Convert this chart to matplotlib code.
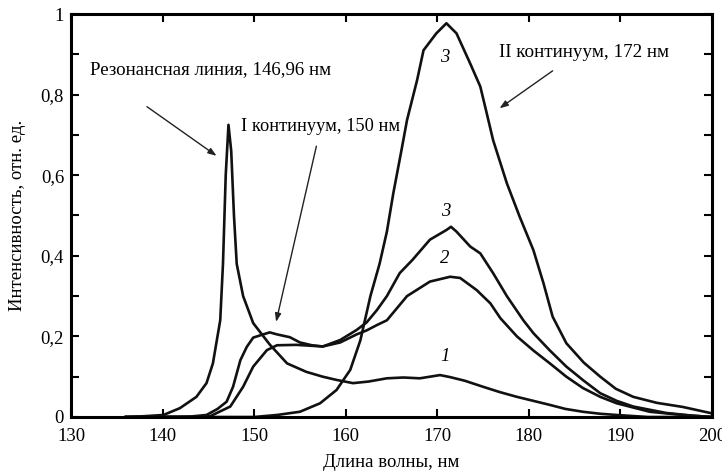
import matplotlib.pyplot as plt
from matplotlib.ticker import MultipleLocator, FuncFormatter

plt.rcParams['font.family'] = ['Liberation Serif', 'DejaVu Serif']

# Кривая 1: резонансная линия 146,96 нм
x1 = [136, 138, 140.1, 141.9, 143.7, 144.8, 145.5, 146.0, 146.3, 146.6, 146.9, 147.2,
      147.5, 147.8, 148.1, 148.8, 149.9, 151.7, 153.6, 155.7, 157.5, 159.0, 160.8,
      162.5, 164.5, 166.3, 168.1, 170.3, 171.4, 173.0, 175.0, 176.8, 178.7, 180.5,
      182.3, 184.0, 185.9, 187.8, 189.6, 193.0, 200]
y1 = [0, 0.002, 0.005, 0.022, 0.05, 0.084, 0.133, 0.2, 0.24, 0.38, 0.6, 0.725,
      0.66, 0.5, 0.38, 0.30, 0.233, 0.18, 0.133, 0.112, 0.1, 0.092, 0.084,
      0.088, 0.096, 0.098, 0.096, 0.104, 0.099, 0.09, 0.075, 0.062, 0.05, 0.04,
      0.03, 0.02, 0.013, 0.008, 0.005, 0.0, 0]

# Кривая 3 (средняя, максимум ~0,47)
x3m = [136, 143, 144.8, 146.0, 147.0, 147.7, 148.5, 149.2, 149.9, 151.0, 151.7, 152.5,
       153.9, 155.0, 156.3, 157.5, 159.4, 161.2, 162.3, 163.4, 164.5, 165.9, 167.3,
       169.2, 171.0, 171.5, 172.1, 173.6, 174.7, 176.1, 177.6, 179.4, 180.5, 182.3,
       184.1, 186.0, 187.8, 189.6, 191.4, 195.0, 198.0, 200]
y3m = [0, 0.001, 0.005, 0.02, 0.038, 0.075, 0.141, 0.174, 0.197, 0.205, 0.21, 0.205,
       0.198, 0.185, 0.178, 0.175, 0.191, 0.216, 0.235, 0.265, 0.30, 0.357, 0.39,
       0.44, 0.464, 0.472, 0.46, 0.423, 0.406, 0.357, 0.30, 0.24, 0.208, 0.165,
       0.125, 0.09, 0.059, 0.04, 0.026, 0.01, 0.003, 0]

# Кривая 2 (максимум ~0,35)
x2 = [136, 142, 145.2, 147.4, 148.8, 149.9, 151.4, 152.5, 154.6, 157.5, 159.4, 161.2,
      162.3, 163.4, 164.5, 166.7, 169.2, 171.4, 172.5, 174.3, 175.8, 176.9, 178.7,
      180.5, 182.3, 184.1, 185.9, 187.8, 189.6, 193.2, 196.8, 200]
y2 = [0, 0, 0.002, 0.026, 0.075, 0.125, 0.166, 0.178, 0.179, 0.175, 0.185, 0.205,
      0.215, 0.228, 0.24, 0.30, 0.336, 0.348, 0.345, 0.315, 0.282, 0.245, 0.2,
      0.165, 0.133, 0.1, 0.072, 0.05, 0.034, 0.013, 0.005, 0]

# Кривая 3 (II континуум, максимум ~0,98)
x3 = [136, 150, 152.5, 155.0, 157.2, 159.0, 160.5, 161.6, 162.7, 163.7, 164.5, 165.2,
      166.1, 166.7, 167.8, 168.5, 169.9, 171.0, 172.1, 173.6, 174.7, 175.4, 176.1,
      177.6, 179.0, 180.5, 181.6, 182.6, 184.1, 186.0, 187.8, 189.5, 191.4, 194.0,
      196.8, 199.8]
y3 = [0, 0, 0.005, 0.013, 0.034, 0.067, 0.117, 0.19, 0.30, 0.38, 0.46, 0.555,
      0.663, 0.737, 0.836, 0.91, 0.952, 0.977, 0.952, 0.877, 0.82, 0.754, 0.687,
      0.58, 0.497, 0.414, 0.332, 0.249, 0.183, 0.135, 0.10, 0.07, 0.05, 0.035,
      0.025, 0.01]

fig = plt.figure(figsize=(7.22, 4.73), dpi=100)
ax = fig.add_axes([0.0983, 0.1184, 0.8878, 0.852])

for xs, ys in [(x1, y1), (x3m, y3m), (x2, y2), (x3, y3)]:
    ax.plot(xs, ys, color='#111111', lw=1.9)

ax.set_xlim(130, 200)
ax.set_ylim(0, 1)
ax.xaxis.set_major_locator(MultipleLocator(10))
ax.yaxis.set_major_locator(MultipleLocator(0.2))
ax.yaxis.set_minor_locator(MultipleLocator(0.1))
ax.yaxis.set_major_formatter(FuncFormatter(lambda v, p: ('%g' % round(v, 1)).replace('.', ',')))
ax.tick_params(which='both', direction='in', top=True, right=True, width=1.5,
               labelsize=13.5)
ax.tick_params(which='major', length=6)
ax.tick_params(which='minor', length=6)
ax.tick_params(axis='x', pad=8)
ax.tick_params(axis='y', pad=5)
for s in ax.spines.values():
    s.set_linewidth(2.2)

ax.set_xlabel('Длина волны, нм', fontsize=13.5)
ax.set_ylabel('Интенсивность, отн. ед.', fontsize=13.5)
ax.yaxis.set_label_coords(-0.07, 0.5)
ax.xaxis.set_label_coords(0.5, -0.092)

# Подписи кривых
for lbl, xx, yy in [('3', 170.8, 0.891), ('3', 170.9, 0.51), ('2', 170.8, 0.393), ('1', 170.8, 0.15)]:
    ax.text(xx, yy, lbl, fontsize=13.5, style='italic', ha='center', va='center')

arrow = dict(arrowstyle='-|>,head_length=0.5,head_width=0.18', color='#222222', lw=1.0,
             shrinkA=0, shrinkB=0)
ax.text(132.1, 0.862, 'Резонансная линия, 146,96 нм', fontsize=13.6, va='center')
ax.annotate('', xy=(145.9, 0.648), xytext=(138.3, 0.77), arrowprops=arrow)
ax.text(148.6, 0.72, 'I континуум, 150 нм', fontsize=13.2, va='center')
ax.annotate('', xy=(152.4, 0.236), xytext=(156.8, 0.672), arrowprops=arrow)
ax.text(176.7, 0.904, 'II континуум, 172 нм', fontsize=13.8, va='center')
ax.annotate('', xy=(176.8, 0.766), xytext=(182.6, 0.859), arrowprops=arrow)

fig.savefig('out.png', dpi=100)
